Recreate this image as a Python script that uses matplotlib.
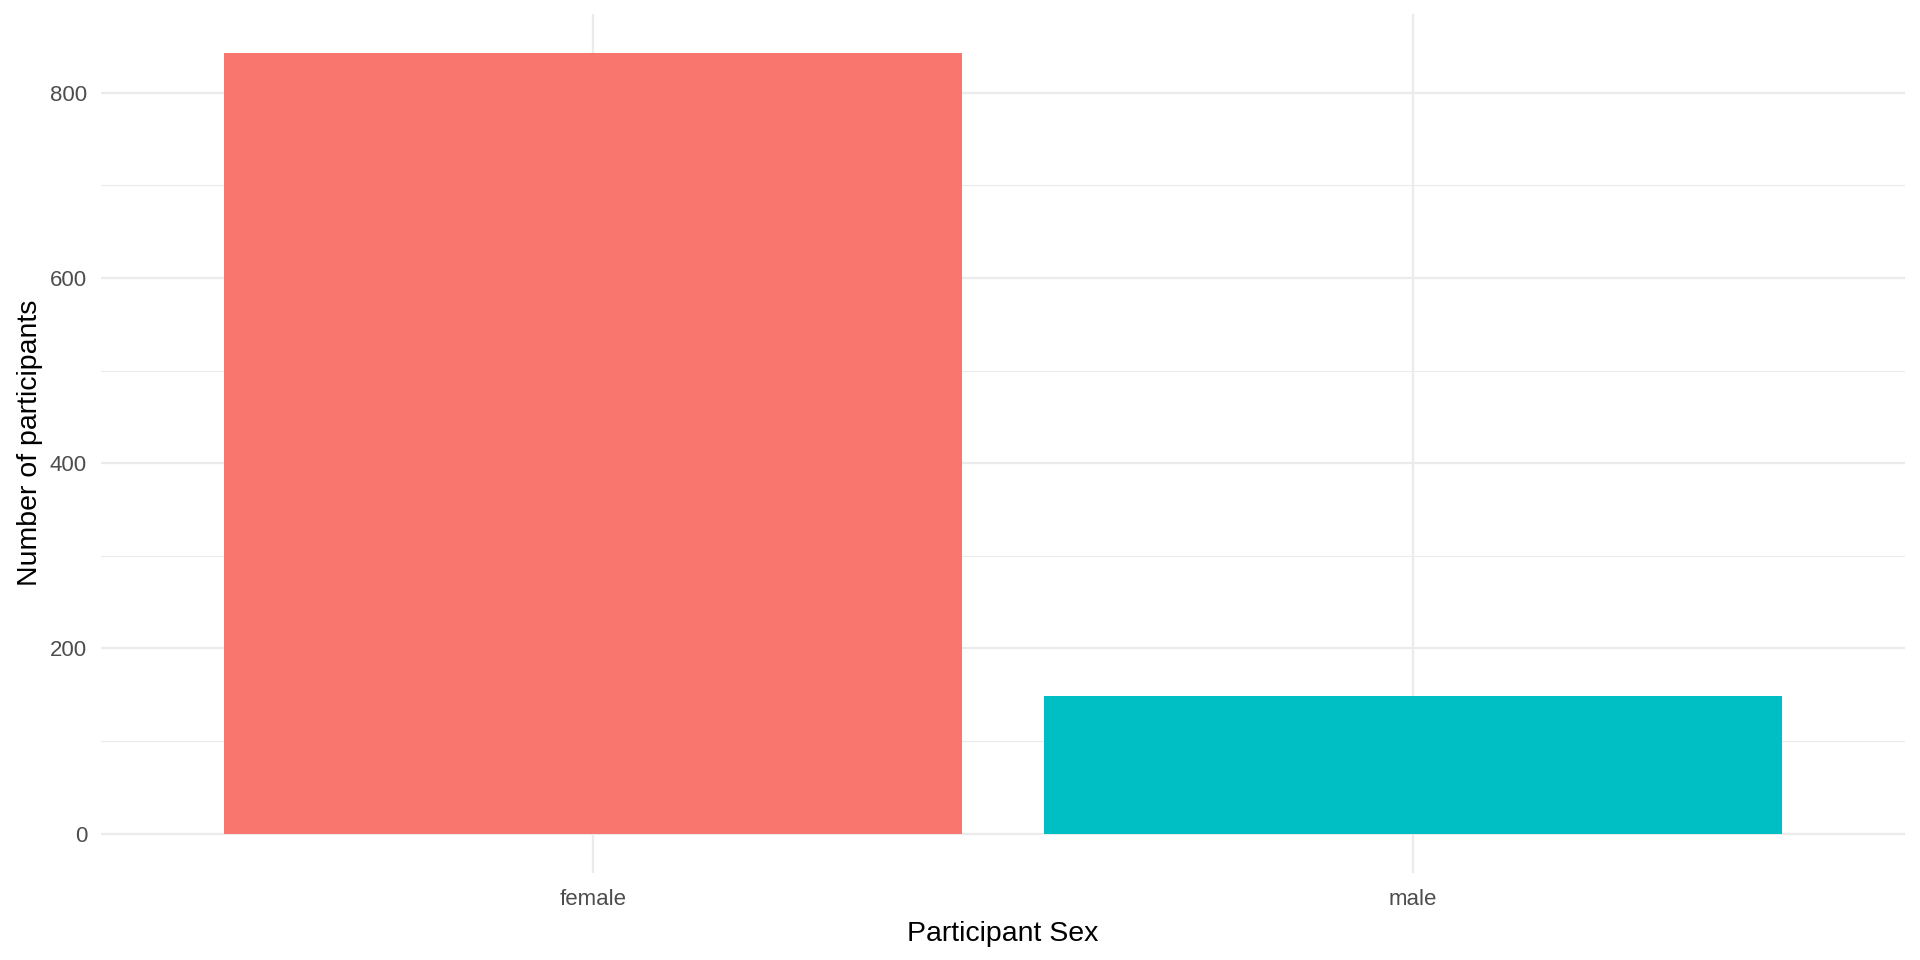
import matplotlib.pyplot as plt
import numpy as np

# data
sex = ['female', 'male']
counts = [843, 149]
bar_colors = ['#F8766D', '#00BFC4']

plt.rcParams['font.family'] = ['Liberation Sans', 'DejaVu Sans']

fig = plt.figure(figsize=(19.2, 9.6), dpi=100)
ax = fig.add_axes([101 / 1920, 1 - 872.7 / 960, (1905 - 101) / 1920, (872.7 - 13.8) / 960])

x = np.arange(1, len(sex) + 1)
ax.bar(x, counts, width=0.9, color=bar_colors, zorder=2)

# ggplot-like expansion
ax.set_xlim(0.4, len(sex) + 0.6)
ymax = max(counts)
ax.set_ylim(-0.05 * ymax, 1.05 * ymax)

ax.set_xticks(x)
ax.set_xticklabels(sex)
ax.set_yticks([0, 200, 400, 600, 800])
ax.set_yticks([100, 300, 500, 700], minor=True)

ax.grid(axis='both', which='major', color='#EBEBEB', linewidth=1.6, zorder=0)
ax.grid(axis='y', which='minor', color='#EBEBEB', linewidth=0.8, zorder=0)
ax.set_axisbelow(True)

for s in ax.spines.values():
    s.set_visible(False)
ax.tick_params(axis='both', which='both', length=0, labelsize=16, labelcolor='#4D4D4D')
ax.tick_params(axis='x', pad=12)
ax.tick_params(axis='y', pad=10)

ax.set_xlabel('Participant Sex', fontsize=20.5, color='black', labelpad=8)
ax.set_ylabel('Number of participants', fontsize=20.5, color='black', labelpad=5)

fig.savefig('out.png', dpi=100, facecolor='white')
